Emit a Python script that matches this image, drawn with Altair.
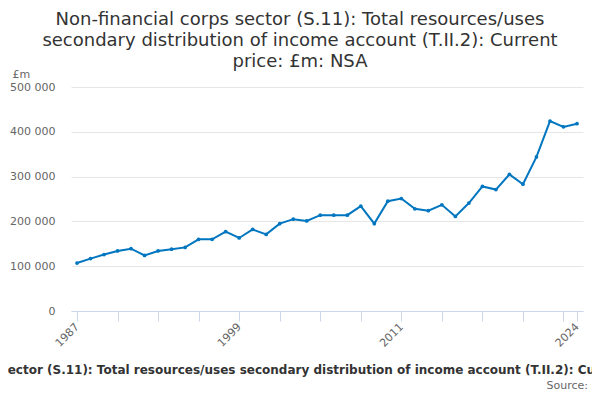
import altair as alt
import pandas as pd

years = list(range(1987, 2025))
values = [107000, 117000, 126000, 134000, 139000, 124000, 134000, 138000, 142000, 160000,
          160000, 177000, 163000, 182000, 171000, 195000, 205000, 201000, 214000, 214000,
          214000, 234000, 195000, 245000, 251000, 228000, 224000, 237000, 211000, 241000,
          278000, 271000, 305000, 283000, 344000, 424000, 411000, 418000]

tick_years = list(range(1987, 2024, 3)) + [2024]
label_years = [1987, 1999, 2011, 2024]
y_ticks = [0, 100000, 200000, 300000, 400000, 500000]

title_lines = ["Non-financial corps sector (S.11): Total resources/uses",
               "secondary distribution of income account (T.II.2): Current",
               "price: £m: NSA"]
full_title = "Non-financial corps sector (S.11): Total resources/uses secondary distribution of income account (T.II.2): Current price: £m: NSA"
source_text = "Source:"
unit_text = "£m"

df = pd.DataFrame({"year": years, "value": values})
FONT = "DejaVu Sans"
BLUE = "#0076c0"

label_test = " || ".join(f"datum.value == {y}" for y in label_years)

base = alt.Chart(df).encode(
    x=alt.X("year:Q",
            scale=alt.Scale(domain=[1986.556, 2024.444], nice=False, zero=False),
            axis=alt.Axis(values=tick_years, format="d", title=None, grid=False,
                          labelExpr=f"({label_test}) ? datum.label : ''",
                          labelOverlap=False, labelAngle=-45, labelAlign="right",
                          labelBaseline="middle", labelPadding=4, tickSize=10,
                          tickColor="#ccd6eb", domainColor="#ccd6eb",
                          labelColor="#666666", labelFont=FONT, labelFontSize=11)),
    y=alt.Y("value:Q",
            scale=alt.Scale(domain=[0, 500000], nice=False),
            axis=alt.Axis(values=y_ticks, title=unit_text, titleAngle=0, titleX=-59, titleY=-10,
                          titleAlign="left", titleBaseline="alphabetic", titleFont=FONT,
                          titleFontSize=11, titleFontWeight="normal", titleColor="#666666",
                          labelExpr="replace(format(datum.value, ','), ',', ' ')",
                          domain=False, ticks=False, labelPadding=16, gridColor="#e6e6e6",
                          labelColor="#666666", labelFont=FONT, labelFontSize=11)),
)

line = base.mark_line(color=BLUE, strokeWidth=2,
                      point=alt.OverlayMarkDef(color=BLUE, size=14, filled=True))

foot_df = pd.DataFrame({"t": [full_title]})
foot = alt.Chart(foot_df).mark_text(font=FONT, fontSize=12, fontWeight="bold", color="#333333",
                                    align="center", baseline="alphabetic").encode(
    text="t:N", x=alt.value(229), y=alt.value(287))

src_df = pd.DataFrame({"t": [source_text]})
src = alt.Chart(src_df).mark_text(font=FONT, fontSize=11, color="#666666",
                                  align="right", baseline="alphabetic").encode(
    text="t:N", x=alt.value(517), y=alt.value(302))

chart = alt.layer(line, foot, src).properties(
    width=512, height=224,
    title=alt.TitleParams(text=title_lines, font=FONT, fontSize=18, fontWeight="normal",
                          color="#333333", anchor="middle", dx=-27, dy=5, offset=2, lineHeight=21),
    autosize=alt.AutoSizeParams(type="none"),
    padding={"left": 63, "top": 79, "right": 9, "bottom": 81},
).configure_view(stroke=None)

chart.save("out.html", embed_options={"renderer": "svg", "actions": False})
